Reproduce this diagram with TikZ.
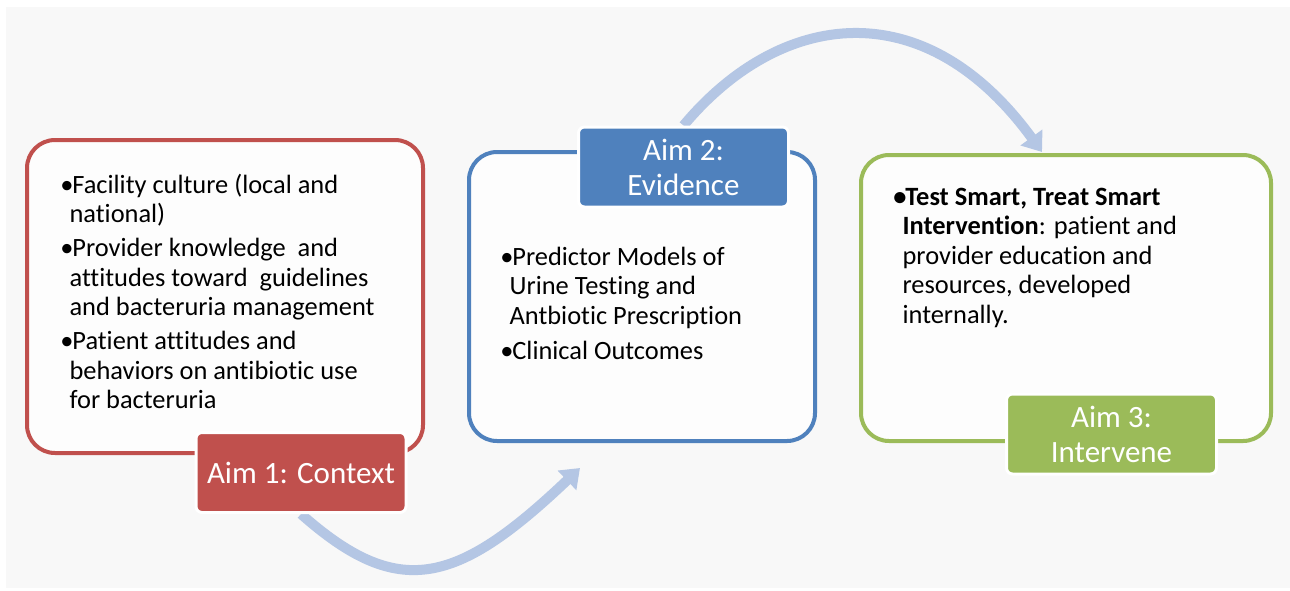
\documentclass[tikz,border=0pt]{standalone}
\usepackage{fontspec}
\setmainfont{Carlito}[Ligatures={NoCommon,NoContextual}, RawFeature={-liga;-clig;-calt;-dlig}]
\usetikzlibrary{
  arrows.meta,
  backgrounds,
}
\definecolor{aimred}{HTML}{C0504D}
\definecolor{aimblue}{HTML}{4F81BD}
\definecolor{aimgreen}{HTML}{9BBB59}
\definecolor{flow}{RGB}{180,198,228}
\definecolor{paper}{HTML}{F8F8F8}
\definecolor{boxfill}{HTML}{FDFDFD}
\newcommand\bul{\makebox[6pt][l]{•}}
\newcommand\ind{\hspace*{4.6pt}}

\begin{document}
\begin{tikzpicture}[x=0.5pt, y=-0.5pt,
  aimbox/.style={draw=#1, fill=boxfill, line width=2pt, rounded corners=14pt},
  aimtag/.style={fill=#1, draw=white, line width=1.5pt, rounded corners=3pt, text=white,
    font=\fontsize{15.5}{17.5}\selectfont, align=center, inner sep=0pt,
    minimum width=105pt, minimum height=40pt},
  items/.style={anchor=north west, inner sep=0pt, align=left,
    font=\fontsize{13.2}{14.75}\selectfont},
  flowarrow/.style={draw=flow, line width=5pt, -{Triangle[length=9pt, width=13pt]}},
]
\useasboundingbox (0,0) rectangle (1290,590);
% the three aims
\node[aimbox=aimred, minimum width=198pt, minimum height=156.5pt] (ctxbox) at (225,296.5) {};
\node[aimbox=aimblue, minimum width=173pt, minimum height=144.5pt] (evdbox) at (642,296.5) {};
\node[aimbox=aimgreen, minimum width=205pt, minimum height=143pt] (itvbox) at (1066,298) {};
\node[items] (ctxtext) at (60,171) {\rule{0pt}{11pt}\bul Facility culture (local and\\\ind national)\\[2.25pt]%
  \bul Provider knowledge\ \ and\\\ind attitudes toward\ \ guidelines\\\ind and bacteruria management\\[2.25pt]%
  \bul Patient attitudes and\\\ind behaviors on antibiotic use\\\ind for bacteruria};
\node[items] (evdtext) at (500,243) {\rule{0pt}{11pt}\bul Predictor Models of\\\ind Urine Testing and\\\ind Antbiotic Prescription\\[3pt]%
  \bul Clinical Outcomes};
\node[items] (itvtext) at (893,183) {\rule{0pt}{11pt}\textbf{\bul Test Smart, Treat Smart}\\\ind\textbf{Intervention}: patient and\\%
  \ind provider education and\\\ind resources, developed\\\ind internally.};
\node[aimtag=aimred] (aim1) at (301,472.5) {Aim 1: Context};
\node[aimtag=aimblue] (aim2) at (683.5,167) {Aim 2:\\Evidence};
\node[aimtag=aimgreen] (aim3) at (1111.5,434) {Aim 3:\\Intervene};
\coordinate (flow1) at (580,468);
\coordinate (flow2) at (1042,152);
\begin{scope}[on background layer]
\fill[paper] (6,7) rectangle (1290,588);
\draw[flowarrow] (aim1.south) .. controls (398,600) and (456,586) .. (flow1);
\draw[flowarrow] (aim2.north) .. controls (780,10) and (924,-10) .. (flow2);
\end{scope}
\end{tikzpicture}
\end{document}
